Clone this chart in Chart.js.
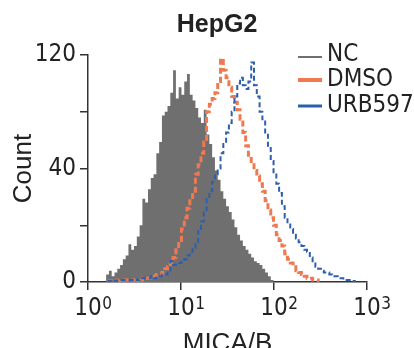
<!DOCTYPE html>
<html>
<head>
<meta charset="utf-8">
<script src="https://cdn.jsdelivr.net/npm/chart.js@4/dist/chart.umd.min.js"></script>
<style>
html, body { margin: 0; padding: 0; background: #ffffff; }
canvas { display: block; }
</style>
</head>
<body>
<canvas id="c" width="414" height="348"></canvas>
<script>
// ---------------- data ----------------
const chartTitle = 'HepG2';
const xAxisTitle = 'MICA/B';
const yAxisTitle = 'Count';
const seriesNames = ['NC', 'DMSO', 'URB597'];

// histogram bin centres, in decades of MICA/B (log10)
const logBins = [
  0.15, 0.18, 0.21, 0.24, 0.27, 0.30, 0.33, 0.36, 0.39, 0.42,
  0.45, 0.48, 0.51, 0.54, 0.57, 0.60, 0.63, 0.66, 0.69, 0.72,
  0.75, 0.78, 0.81, 0.84, 0.87, 0.90, 0.93, 0.96, 0.99, 1.02,
  1.05, 1.08, 1.11, 1.14, 1.17, 1.20, 1.23, 1.26, 1.29, 1.32,
  1.35, 1.38, 1.41, 1.44, 1.47, 1.50, 1.53, 1.56, 1.59, 1.62,
  1.65, 1.68, 1.71, 1.74, 1.77, 1.80, 1.83, 1.86, 1.89, 1.92,
  1.95, 1.98, 2.01, 2.04, 2.07, 2.10, 2.13, 2.16, 2.19, 2.22,
  2.25, 2.28, 2.31, 2.34, 2.37, 2.40, 2.43, 2.46, 2.49, 2.52,
  2.55, 2.58, 2.61, 2.64, 2.67, 2.70, 2.73, 2.76, 2.79, 2.82,
  2.85, 2.88, 2.91
];

const ncCounts = [
  0, 0, 4, 6, 3, 5, 7, 9, 12, 14,
  20, 17, 19, 24, 30, 44, 42, 49, 55, 57,
  68, 74, 88, 90, 93, 100, 112, 97, 103, 99,
  106, 110, 99, 96, 92, 87, 84, 91, 78, 73,
  66, 59, 54, 48, 44, 40, 37, 33, 29, 25,
  22, 19, 17, 15, 13, 11, 10, 9, 7, 5,
  3, 1, 0, null, null, null, null, null, null, null,
  null, null, null, null, null, null, null, null, null, null,
  null, null, null, null, null, null, null, null, null, null,
  null, null, null
];

const dmsoCounts = [
  null, null, 0.5, 0.5, 0.5, 1, 0.5, 1, 1, 1,
  1, 1, 1, 1.5, 1, 2, 2, 2, 3, 3,
  4, 4, 5, 7, 8, 10, 13, 17, 22, 28,
  34, 39, 43, 48, 57, 62, 68, 74, 90, 94,
  97, 100, 106, 118, 112, 108, 103, 98, 95, 91,
  86, 79, 72, 67, 62, 59, 56, 52, 48, 43,
  38, 34, 30, 25, 22, 19, 15, 12, 10, 8,
  6, 5, 4, 3, 2, 2, 1, 1, 0.5, null,
  null, null, null, null, null, null, null, null, null, null,
  null, null, null
];

const urbCounts = [
  null, null, 0.5, 0.5, 1, 0.5, 1, 1, 1, 1,
  1, 1, 1.5, 1, 2, 2, 2, 2, 3, 2,
  3, 3, 4, 4, 5, 11, 9, 10, 10, 11,
  12, 14, 16, 18, 20, 27, 32, 38, 44, 48,
  53, 57, 60, 68, 73, 79, 84, 90, 98, 105,
  108, 104, 102, 106, 116, 104, 98, 90, 86, 79,
  72, 64, 58, 52, 47, 40, 34, 31, 28, 25,
  23, 21, 19, 17, 16, 13, 11, 8, 7, 6,
  5, 5, 4, 3, 3, 2, 2, 1, 1, 1,
  0.5, 0.5, null
];

const xTickValues = [0, 1, 2, 3];
const xTickBase = ['10', '10', '10', '10'];
const xTickExp = ['0', '1', '2', '3'];
const yTickValues = [0, 30, 60, 90, 120];
const yTickLabels = ['0', '', '40', '', '120'];

// ---------------- styles ----------------
const SANS = "'Liberation Sans', Arial, Helvetica, sans-serif";
const NARROW = "'Liberation Sans Narrow', 'Arial Narrow', 'DejaVu Sans Condensed', sans-serif";
const TEXT = '#222222';
const AXIS = '#333333';
const colNC = '#6f6f6f';
const colDMSO = '#ef7a52';
const colURB = '#2d5fae';

function pts(arr) {
  return logBins.map((x, i) => ({ x: x, y: arr[i] }));
}

const insetLegend = {
  id: 'insetLegend',
  afterDraw(chart) {
    const ctx = chart.ctx;
    const items = [
      { text: seriesNames[0], color: colNC, width: 2, ty: 55, ly: 57 },
      { text: seriesNames[1], color: colDMSO, width: 4, ty: 80, ly: 80 },
      { text: seriesNames[2], color: colURB, width: 3, ty: 106, ly: 106 }
    ];
    ctx.save();
    items.forEach(it => {
      ctx.strokeStyle = it.color;
      ctx.lineWidth = it.width;
      ctx.beginPath();
      ctx.moveTo(298, it.ly);
      ctx.lineTo(322, it.ly);
      ctx.stroke();
      ctx.fillStyle = TEXT;
      ctx.font = '24px ' + NARROW;
      ctx.textAlign = 'left';
      ctx.textBaseline = 'middle';
      ctx.fillText(it.text, 327, it.ty);
    });
    ctx.restore();
  }
};

const superscripts = {
  id: 'superscripts',
  afterDraw(chart) {
    const xs = chart.scales.x;
    const ctx = chart.ctx;
    ctx.save();
    ctx.font = '24px ' + NARROW;
    const baseW = ctx.measureText('10').width;
    ctx.font = '17px ' + NARROW;
    ctx.fillStyle = TEXT;
    ctx.textAlign = 'left';
    ctx.textBaseline = 'alphabetic';
    xTickValues.forEach((v, i) => {
      const px = xs.getPixelForValue(v);
      ctx.fillText(xTickExp[i], px + baseW / 2 + 0.5, xs.top + 27);
    });
    ctx.restore();
  }
};

Chart.defaults.color = TEXT;

new Chart(document.getElementById('c'), {
  type: 'line',
  data: {
    datasets: [
      {
        label: seriesNames[0],
        data: pts(ncCounts),
        stepped: 'middle',
        borderWidth: 0,
        borderColor: colNC,
        backgroundColor: colNC,
        fill: 'origin',
        pointRadius: 0,
        order: 3
      },
      {
        label: seriesNames[1],
        data: pts(dmsoCounts),
        stepped: 'middle',
        borderWidth: 3,
        borderColor: colDMSO,
        borderDash: [6, 3],
        fill: false,
        pointRadius: 0,
        order: 2
      },
      {
        label: seriesNames[2],
        data: pts(urbCounts),
        stepped: 'middle',
        borderWidth: 2,
        borderColor: colURB,
        borderDash: [5, 3],
        fill: false,
        pointRadius: 0,
        order: 1
      }
    ]
  },
  options: {
    responsive: false,
    animation: false,
    devicePixelRatio: 1,
    layout: { padding: { left: 20, right: 0, top: 0, bottom: 0 } },
    plugins: {
      legend: { display: false },
      tooltip: { enabled: false },
      title: {
        display: true,
        text: chartTitle,
        color: TEXT,
        font: { family: SANS, size: 25, weight: 'bold', lineHeight: 1.2 },
        padding: { top: 10, bottom: 15 }
      }
    },
    scales: {
      x: {
        type: 'linear',
        min: 0,
        max: 3,
        afterBuildTicks(s) { s.ticks = xTickValues.map(v => ({ value: v })); },
        afterFit(s) { s.height = 66; },
        border: { display: true, color: AXIS, width: 1.5 },
        grid: { display: true, drawOnChartArea: false, drawTicks: true, tickLength: 8, color: AXIS, lineWidth: 1.5 },
        ticks: {
          autoSkip: false,
          maxRotation: 0,
          padding: 4,
          color: TEXT,
          font: { family: NARROW, size: 24 },
          callback: (v, i) => xTickBase[i]
        },
        title: {
          display: true,
          text: xAxisTitle,
          color: TEXT,
          font: { family: SANS, size: 26, lineHeight: 0.34 },
          padding: { top: 0, bottom: 0 }
        }
      },
      y: {
        type: 'linear',
        min: 0,
        max: 120,
        afterBuildTicks(s) { s.ticks = yTickValues.map(v => ({ value: v })); },
        afterFit(s) { s.width = 68; },
        border: { display: true, color: AXIS, width: 1.5 },
        grid: { display: true, drawOnChartArea: false, drawTicks: true, tickLength: 8, color: AXIS, lineWidth: 1.5 },
        ticks: {
          autoSkip: false,
          padding: 4,
          color: TEXT,
          font: { family: NARROW, size: 24 },
          callback: (v, i) => yTickLabels[i]
        },
        title: {
          display: true,
          text: yAxisTitle,
          color: TEXT,
          font: { family: SANS, size: 26, lineHeight: 0.3 },
          padding: { top: 0, bottom: 0 }
        }
      },
      yR: {
        type: 'linear',
        position: 'right',
        display: true,
        afterFit(s) { s.width = 47; },
        border: { display: false },
        grid: { display: false, drawTicks: false },
        ticks: { display: false }
      }
    }
  },
  plugins: [insetLegend, superscripts]
});
</script>
</body>
</html>
